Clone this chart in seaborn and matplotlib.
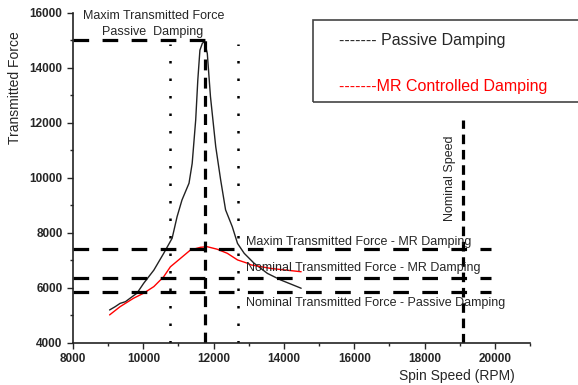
import matplotlib
matplotlib.use("Agg")
import matplotlib.pyplot as plt
import matplotlib.patches as patches
from matplotlib.ticker import MultipleLocator
import pandas as pd
import seaborn as sns

# --- datos ---
passive_rpm = [9040, 9200, 9340, 9490, 9680, 9820, 10010, 10300, 10580, 10820, 10960,
               11100, 11300, 11390, 11490, 11550, 11610, 11680, 11740, 11820, 11910,
               12060, 12200, 12340, 12530, 12680, 12870, 13150, 13530, 13910, 14490]
passive_force = [5190, 5310, 5430, 5490, 5670, 5800, 6160, 6640, 7250, 7800, 8580,
                 9190, 9800, 10520, 12100, 13550, 14640, 14890, 14950, 14520, 12950,
                 11130, 9920, 8830, 8220, 7610, 7250, 6890, 6520, 6280, 5980]

mr_rpm = [9040, 9340, 9720, 10010, 10300, 10580, 10770, 11060, 11340, 11630, 11820,
          12100, 12390, 12680, 12960, 13060, 13630, 14490]
mr_force = [5010, 5310, 5615, 5800, 6040, 6400, 6760, 7070, 7370, 7470, 7490,
            7400, 7250, 7010, 6890, 6830, 6700, 6580]

# lineas de referencia
max_passive = 15000
max_passive_end = 11800
hlines_force = [7400, 6350, 5830]
hlines_end = 19900
peak_rpm = 11750
band_rpm = [10750, 12700]
band_top = 14850
nominal_rpm = 19100
nominal_top = 12100

df_passive = pd.DataFrame({"rpm": passive_rpm, "force": passive_force})
df_mr = pd.DataFrame({"rpm": mr_rpm, "force": mr_force})

sns.set_style("ticks")
plt.rcParams['font.family'] = ['Liberation Sans', 'DejaVu Sans']

fig = plt.figure(figsize=(5.78, 3.85), dpi=100)
ax = fig.add_axes([0.1263, 0.1099, 0.7907, 0.857])

sns.lineplot(data=df_passive, x="rpm", y="force", ax=ax, color="#222222", lw=1.0)
sns.lineplot(data=df_mr, x="rpm", y="force", ax=ax, color="#ff0000", lw=1.0)

thick = dict(color="black", lw=2.3)
ax.hlines(max_passive, 8000, max_passive_end, linestyles=[(0, (4.9, 4.2))], **thick)
ax.hlines(hlines_force, 8000, hlines_end, linestyles=[(0, (4.9, 4.2))], **thick)
ax.vlines(peak_rpm, 4000, max_passive, linestyles=[(0, (3.4, 2.3))], **thick)
ax.vlines(band_rpm, 4000, band_top, colors="black", lw=1.8, linestyles=[(0, (1, 6))])
ax.vlines(nominal_rpm, 4000, nominal_top, linestyles=[(0, (3.0, 1.8))], **thick)

ax.set_xlim(8000, 21000)
ax.set_ylim(4000, 16000)
ax.xaxis.set_major_locator(MultipleLocator(2000))
ax.xaxis.set_minor_locator(MultipleLocator(1000))
ax.yaxis.set_major_locator(MultipleLocator(2000))
ax.yaxis.set_minor_locator(MultipleLocator(1000))
ax.set_xticks([8000, 10000, 12000, 14000, 16000, 18000, 20000])
ax.tick_params(which="major", direction="out", length=4, width=1, labelsize=8.5, pad=3.5)
ax.tick_params(which="minor", direction="out", length=2.5, width=1)
for lab in ax.get_xticklabels() + ax.get_yticklabels():
    lab.set_fontweight("bold")
sns.despine(ax=ax)
for s in ["left", "bottom"]:
    ax.spines[s].set_linewidth(1.2)
    ax.spines[s].set_color("#222222")

ax.set_xlabel("")
ax.set_ylabel("")
fig.text(15 / 578, 1 - 88 / 385, "Transmitted Force", rotation=90, ha="center", va="center", fontsize=10)
fig.text(457 / 578, 1 - 376 / 385, "Spin Speed (RPM)", ha="center", va="center", fontsize=10)

# --- anotaciones ---
fs = 9
fig.text(154 / 578, 1 - 16 / 385, "Maxim Transmitted Force", ha="center", va="center", fontsize=fs)
fig.text(153 / 578, 1 - 32 / 385, "Passive  Damping", ha="center", va="center", fontsize=fs)
fig.text(246 / 578, 1 - 242 / 385, "Maxim Transmitted Force - MR Damping", ha="left", va="center", fontsize=fs)
fig.text(246 / 578, 1 - 268 / 385, "Nominal Transmitted Force - MR Damping", ha="left", va="center", fontsize=fs)
fig.text(246 / 578, 1 - 303 / 385, "Nominal Transmitted Force - Passive Damping", ha="left", va="center", fontsize=fs)
fig.text(450 / 578, 1 - 178 / 385, "Nominal Speed", rotation=90, ha="center", va="center", fontsize=fs)

# --- leyenda manual ---
box = patches.Rectangle((313 / 578, 1 - 102 / 385), 300 / 578, 82 / 385, transform=fig.transFigure,
                        fill=False, edgecolor="#444444", lw=1.2, clip_on=False)
fig.patches.append(box)
fig.text(339 / 578, 1 - 40 / 385, "------- Passive Damping", ha="left", va="center", fontsize=11.5)
fig.text(339 / 578, 1 - 86 / 385, "-------MR Controlled Damping", ha="left", va="center", fontsize=11.5, color="#ff0000")

plt.savefig("out.png", dpi=100)
plt.close()
